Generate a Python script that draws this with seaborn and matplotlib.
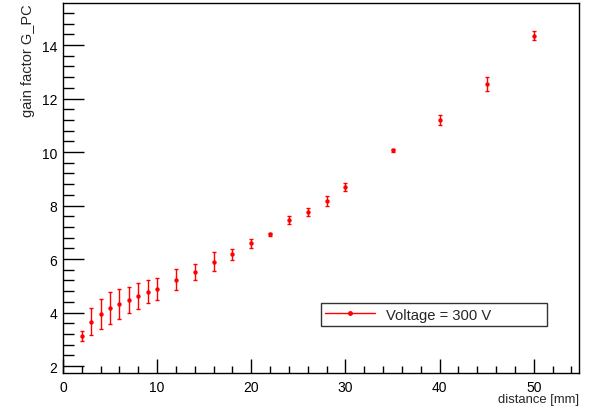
import matplotlib
matplotlib.use("Agg")
import matplotlib.pyplot as plt
from matplotlib.lines import Line2D
from matplotlib.ticker import MultipleLocator
import seaborn as sns
import pandas as pd

distance = [2, 3, 4, 5, 6, 7, 8, 9, 10, 12, 14, 16, 18, 20, 22, 24, 26, 28, 30, 35, 40, 45, 50]
gain = [3.12, 3.66, 3.94, 4.18, 4.32, 4.47, 4.62, 4.78, 4.88, 5.23, 5.53, 5.90, 6.17,
        6.59, 6.92, 7.46, 7.74, 8.17, 8.70, 10.06, 11.21, 12.55, 14.35]
gain_err = [0.20, 0.50, 0.57, 0.60, 0.55, 0.50, 0.48, 0.44, 0.40, 0.39, 0.30, 0.35, 0.20,
            0.16, 0.05, 0.14, 0.15, 0.18, 0.14, 0.07, 0.19, 0.26, 0.16]
legend_label = "Voltage = 300 V"
x_label = "distance [mm]"
y_label = "gain factor G_PC"

df = pd.DataFrame({"distance": distance, "gain": gain, "err": gain_err})

sns.set_style("ticks")
plt.rcParams["font.family"] = ["Liberation Sans", "DejaVu Sans"]

fig = plt.figure(figsize=(5.93, 4.10), dpi=100)
ax = fig.add_axes([63 / 593, 1 - 374 / 410, (579 - 63) / 593, (374 - 4) / 410])

red = "#ff0000"
ax.errorbar(df["distance"], df["gain"], yerr=df["err"], fmt="none", ecolor=red,
            elinewidth=1.0, capsize=1.5, capthick=1.0, zorder=2)
sns.scatterplot(data=df, x="distance", y="gain", ax=ax, color=red, marker="o",
                s=10, edgecolor=red, linewidth=0, zorder=3, legend=False)

ax.set_xlim(0, 54.8)
ax.set_ylim(1.74, 15.57)
ax.xaxis.set_major_locator(MultipleLocator(10))
ax.xaxis.set_minor_locator(MultipleLocator(2))
ax.yaxis.set_major_locator(MultipleLocator(2))
ax.yaxis.set_minor_locator(MultipleLocator(0.4))
ax.tick_params(axis="both", which="both", direction="in", top=False, right=False,
               colors="black", labelsize=10)
ax.tick_params(axis="x", which="major", length=10, width=1.0, pad=5)
ax.tick_params(axis="x", which="minor", length=5, width=1.0)
ax.tick_params(axis="y", which="major", length=15, width=1.0, pad=4)
ax.tick_params(axis="y", which="minor", length=8, width=1.0)
for s in ax.spines.values():
    s.set_visible(True)
    s.set_linewidth(1.0)
    s.set_color("black")

ax.set_xlabel("")
ax.set_ylabel("")
fig.text(579 / 593, 1 - 400 / 410, x_label, ha="right", va="center", fontsize=9.4)
fig.text(28 / 593, 1 - 4 / 410, y_label, ha="center", va="top", rotation=90, fontsize=10.5)

handle = Line2D([0], [0], color=red, lw=1.0, marker="o", markersize=2.5)
leg = ax.legend([handle], [legend_label], loc="lower left",
                bbox_to_anchor=((321 - 63) / 516, (374 - 327) / 370, (547 - 321) / 516, (327 - 303) / 370),
                mode="expand", fontsize=10.6, frameon=True, fancybox=False, borderpad=0.3,
                handlelength=3.4, handletextpad=0.7, borderaxespad=0)
leg.get_frame().set_edgecolor("black")
leg.get_frame().set_linewidth(1.0)

fig.savefig("out.png", dpi=100, facecolor="white")
